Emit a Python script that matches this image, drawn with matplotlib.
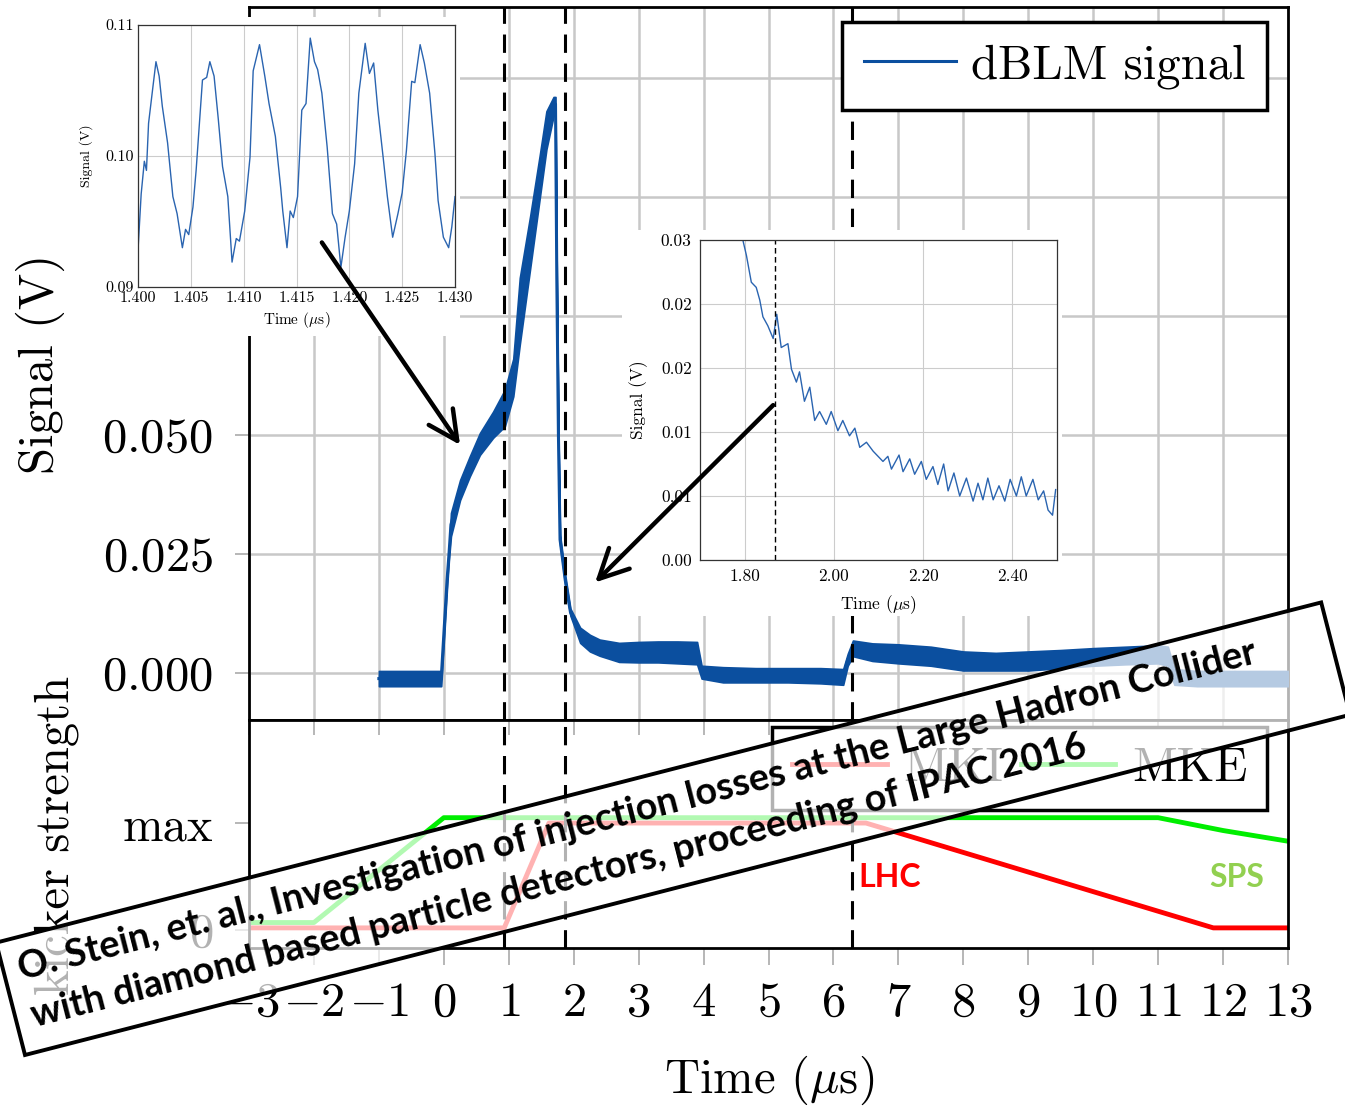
import numpy as np
import matplotlib
matplotlib.use("Agg")
import matplotlib.pyplot as plt
from matplotlib.patches import Rectangle, ConnectionPatch
from matplotlib.transforms import Affine2D

plt.rcParams['font.family'] = ['cmr10', 'DejaVu Serif']
plt.rcParams['mathtext.fontset'] = 'cm'
plt.rcParams['axes.formatter.use_mathtext'] = True

# ---- main dBLM trace (noise band: lower / upper envelope) ----
sig_t = [-1.0, -0.5, -0.04, 0.05, 0.08, 0.11, 0.25, 0.40, 0.556, 0.76, 0.94, 1.07,
         1.17, 1.33, 1.48, 1.58, 1.69, 1.72, 1.74, 1.765, 1.79, 1.87, 1.95, 2.1,
         2.25, 2.4, 2.7, 3.0, 3.3, 3.6, 3.9, 3.97, 4.3, 4.8, 5.3, 5.8, 6.15,
         6.22, 6.3, 6.6, 7.0, 7.5, 8.0, 8.5, 9.0, 9.5, 10.0, 10.5, 11.0, 11.15,
         11.25, 11.6, 12.0, 12.5, 13.0]
sig_lo = [-0.0028, -0.0028, -0.0028, 0.018, 0.024, 0.0287, 0.0363, 0.0413, 0.0458,
          0.0494, 0.0518, 0.0581, 0.069, 0.085, 0.100, 0.110, 0.117, 0.118, 0.083,
          0.050, 0.027, 0.0185, 0.0120, 0.0063, 0.0045, 0.0036, 0.0023, 0.0022,
          0.0022, 0.0020, 0.0018, -0.0012, -0.0020, -0.0020, -0.0020, -0.0022,
          -0.0025, 0.0015, 0.0035, 0.0025, 0.0020, 0.0015, 0.0005, 0.0005, 0.0005,
          0.0010, 0.0015, 0.0018, 0.0020, 0.0015, -0.0025, -0.0028, -0.0028,
          -0.0028, -0.0028]
sig_hi = [0.0004, 0.0004, 0.0004, 0.021, 0.026, 0.0336, 0.0405, 0.0455, 0.0504,
          0.0549, 0.0595, 0.066, 0.083, 0.096, 0.109, 0.118, 0.121, 0.121, 0.083,
          0.050, 0.029, 0.0205, 0.0135, 0.0095, 0.0080, 0.0070, 0.0063, 0.0065,
          0.0066, 0.0066, 0.0065, 0.0015, 0.0012, 0.0010, 0.0010, 0.0010, 0.0008,
          0.0040, 0.0068, 0.0062, 0.0060, 0.0055, 0.0045, 0.0042, 0.0045, 0.0048,
          0.0052, 0.0055, 0.0058, 0.0055, 0.0008, 0.0004, 0.0004, 0.0004, 0.0004]

# ---- kicker waveforms ----
mki_t = [-3, 0.93, 1.62, 6.5, 11.85, 13]
mki_v = [0.02, 0.02, 1.0, 1.0, 0.02, 0.02]
mke_t = [-3, -2, 0, 11, 12, 13]
mke_v = [0.07, 0.07, 1.05, 1.05, 0.93, 0.83]

# dashed markers (us)
mark_t = [0.93, 1.86, 6.28]

# ---- inset 1: oscillation around 1.4 us ----
in1_t = [1.4000, 1.4003, 1.4006, 1.4008, 1.4010, 1.4014, 1.4017, 1.4020, 1.4023,
         1.4028, 1.4033, 1.4037, 1.4042, 1.4045, 1.4048, 1.4052, 1.4055, 1.4061,
         1.4065, 1.4068, 1.4072, 1.4076, 1.4080, 1.4085, 1.4089, 1.4093, 1.4096,
         1.4101, 1.4106, 1.4109, 1.4115, 1.4120, 1.4124, 1.4130, 1.4135, 1.4137,
         1.4141, 1.4144, 1.4147, 1.4151, 1.4155, 1.4159, 1.4163, 1.4167, 1.4170,
         1.4174, 1.4179, 1.4184, 1.4188, 1.4192, 1.4196, 1.4200, 1.4205, 1.4209,
         1.4215, 1.4219, 1.4223, 1.4227, 1.4232, 1.4236, 1.4241, 1.4246, 1.4250,
         1.4254, 1.4259, 1.4262, 1.4267, 1.4271, 1.4276, 1.4281, 1.4284, 1.4289,
         1.4294, 1.4297, 1.4300]
in1_v = [0.0928, 0.0971, 0.0996, 0.0989, 0.1025, 0.1052, 0.1072, 0.1061, 0.1038,
         0.1010, 0.0969, 0.0956, 0.0930, 0.0944, 0.0940, 0.0961, 0.0989, 0.1058,
         0.1060, 0.1072, 0.1061, 0.1028, 0.0992, 0.0969, 0.0919, 0.0937, 0.0935,
         0.0958, 0.0999, 0.1065, 0.1085, 0.1061, 0.1040, 0.1015, 0.0976, 0.0958,
         0.0930, 0.0958, 0.0953, 0.0969, 0.1035, 0.1040, 0.1090, 0.1072, 0.1066,
         0.1048, 0.1007, 0.0956, 0.0948, 0.0915, 0.0938, 0.0958, 0.0994, 0.1048,
         0.1086, 0.1063, 0.1071, 0.1035, 0.0999, 0.0969, 0.0938, 0.0956, 0.0972,
         0.1004, 0.1057, 0.1056, 0.1085, 0.1071, 0.1048, 0.1002, 0.0966, 0.0938,
         0.0930, 0.0946, 0.0969]

# ---- inset 2: decay tail ----
in2_t = [1.796, 1.804, 1.815, 1.826, 1.834, 1.841, 1.852, 1.864, 1.872, 1.882,
         1.897, 1.905, 1.916, 1.923, 1.934, 1.946, 1.957, 1.968, 1.983, 1.994,
         2.009, 2.020, 2.035, 2.047, 2.058, 2.073, 2.088, 2.099, 2.110, 2.121,
         2.129, 2.146, 2.155, 2.170, 2.181, 2.196, 2.207, 2.222, 2.233, 2.246,
         2.256, 2.269, 2.282, 2.297, 2.312, 2.323, 2.334, 2.345, 2.357, 2.370,
         2.383, 2.395, 2.409, 2.420, 2.431, 2.446, 2.458, 2.470, 2.480, 2.490,
         2.497]
in2_v = [0.0250, 0.0238, 0.0217, 0.0213, 0.0203, 0.0190, 0.0183, 0.0173, 0.0192,
         0.0166, 0.0169, 0.0149, 0.0139, 0.0147, 0.0124, 0.0135, 0.0109, 0.0116,
         0.0106, 0.0116, 0.0101, 0.0109, 0.0097, 0.0103, 0.0088, 0.0092, 0.0085,
         0.0081, 0.0077, 0.0081, 0.0071, 0.0082, 0.0069, 0.0079, 0.0067, 0.0077,
         0.0063, 0.0073, 0.0059, 0.0075, 0.0054, 0.0068, 0.0050, 0.0064, 0.0046,
         0.0060, 0.0047, 0.0064, 0.0047, 0.0058, 0.0046, 0.0063, 0.0050, 0.0065,
         0.0050, 0.0063, 0.0047, 0.0054, 0.0039, 0.0035, 0.0055]
in2_ylabels = ['0.00', '0.01', '0.01', '0.02', '0.02', '0.03']

x_ticks = list(range(-3, 14))
y_ticks = [0.0, 0.025, 0.05, 0.075, 0.1, 0.125]
y_ticklabels = ['$0.000$', '$0.025$', '$0.050$', '', '', '']  # upper ones sit under the inset

citation = ["O. Stein, et. al., Investigation of injection losses at the Large Hadron Collider",
            "with diamond based particle detectors, proceeding of IPAC 2016"]

BLUE = '#0b4f9f'
GRID = '#c8c8c8'
TLAB = r'Time ($\mu$s)'
W, H = 1345, 1111


def box(x0, y0, x1, y1):
    # pixel box (origin top-left) -> figure fraction rect
    return [x0 / W, 1 - y1 / H, (x1 - x0) / W, (y1 - y0) / H]


fig = plt.figure(figsize=(W / 100, H / 100), dpi=100)
ax1 = fig.add_axes(box(249, 7, 1288, 720))
ax2 = fig.add_axes(box(249, 720, 1288, 948))

# top panel
ax1.set_axisbelow(True)
ax1.grid(True, color=GRID, lw=1.8)
mid = (np.array(sig_lo) + np.array(sig_hi)) / 2
ax1.fill_between(sig_t, sig_lo, sig_hi, color=BLUE, lw=1.2, zorder=3)
ax1.plot(sig_t, mid, color=BLUE, lw=2.2, zorder=3, label='dBLM signal')
for t in mark_t:
    ax1.axvline(t, color='k', lw=2.2, dashes=(6, 3.5), zorder=4)
ax1.set_xlim(-3, 13)
ax1.set_ylim(-0.0099, 0.1399)
ax1.set_xticks(x_ticks)
ax1.set_yticks(y_ticks)
ax1.set_yticklabels(y_ticklabels, fontsize=35)
ax1.tick_params(axis='x', length=0, labelbottom=False)
ax1.tick_params(axis='y', length=10, width=1.2, color='#aaaaaa', pad=16)
for s in ax1.spines.values():
    s.set_linewidth(2)
leg = ax1.legend(loc='upper right', bbox_to_anchor=(0.98, 0.979), fontsize=35,
                 fancybox=False, framealpha=1, edgecolor='black', borderpad=0.45,
                 handlelength=1.9, handletextpad=0.3, borderaxespad=0)
leg.get_frame().set_linewidth(2.5)

# bottom panel
ax2.plot(mki_t, mki_v, color='#ff0000', lw=3.5, label='MKI')
ax2.plot(mke_t, mke_v, color='#00ee00', lw=3.5, label='MKE')
for t in mark_t:
    ax2.axvline(t, color='k', lw=2.2, dashes=(6, 3.5), zorder=4)
ax2.set_xlim(-3, 13)
ax2.set_ylim(-0.168, 1.963)
ax2.set_xticks(x_ticks)
ax2.set_xticklabels(['$%d$' % v for v in x_ticks], fontsize=35)
ax2.set_yticks([0, 1])
ax2.set_yticklabels(['$0$', 'max'], fontsize=35)
ax2.tick_params(axis='x', length=12, width=1.2, color='#aaaaaa', pad=12)
ax2.tick_params(axis='y', length=10, width=1.2, color='#aaaaaa', pad=16)
top = ax2.secondary_xaxis('top')
top.set_xticks(x_ticks)
top.tick_params(direction='in', length=11, width=1.2, color='#aaaaaa', labeltop=False)
top.spines['top'].set_visible(False)
for s in ax2.spines.values():
    s.set_linewidth(2)
ax2.text(6.39, 0.495, 'LHC', color='#ff0000', family='Lato', weight='bold',
         fontsize=23, ha='left', va='center')
ax2.text(12.64, 0.495, 'SPS', color='#92d050', family='Lato', weight='bold',
         fontsize=23, ha='right', va='center')
leg2 = ax2.legend(loc='upper right', bbox_to_anchor=(0.98, 0.969), ncol=2, fontsize=35,
                  fancybox=False, framealpha=1, edgecolor='black', borderpad=0.4,
                  handlelength=1.95, handletextpad=0.35, columnspacing=0.35,
                  borderaxespad=0)
leg2.get_frame().set_linewidth(2.5)

fig.text(40 / W, 1 - 364 / H, 'Signal (V)', rotation=90, fontsize=35, ha='center', va='center')
fig.text(57 / W, 1 - 835 / H, 'kicker strength', rotation=90, fontsize=35, ha='center', va='center')
fig.text(769 / W, 1 - 1080 / H, TLAB, fontsize=35, ha='center', va='center')

# white backgrounds of the pasted insets
for x0, y0, x1, y1 in [(70, 17, 460, 336), (622, 230, 1062, 616)]:
    fig.add_artist(Rectangle((x0 / W, 1 - y1 / H), (x1 - x0) / W, (y1 - y0) / H,
                             transform=fig.transFigure, facecolor='white',
                             edgecolor='none', zorder=1))

# inset 1
ax3 = fig.add_axes(box(138, 25, 455, 287), zorder=2)
ax3.plot(in1_t, in1_v, color='#2a64b0', lw=1.0)
ax3.set_xlim(1.400, 1.430)
ax3.set_ylim(0.09, 0.11)
ax3.set_xticks([1.400, 1.405, 1.410, 1.415, 1.420, 1.425, 1.430])
ax3.set_xticklabels(['1.400', '1.405', '1.410', '1.415', '1.420', '1.425', '1.430'])
ax3.set_yticks([0.09, 0.10, 0.11])
ax3.set_yticklabels(['0.09', '0.10', '0.11'])
ax3.grid(True, color='#cccccc', lw=0.8)
ax3.tick_params(length=0, labelsize=11.5, pad=3)
ax3.set_xlabel(TLAB, fontsize=11, labelpad=4)
ax3.set_ylabel('Signal (V)', fontsize=10, labelpad=9)
for s in ax3.spines.values():
    s.set_linewidth(0.9)
    s.set_color('#333333')

# inset 2
ax4 = fig.add_axes(box(700, 240, 1057, 560), zorder=2)
ax4.plot(in2_t, in2_v, color='#2a64b0', lw=1.0)
ax4.axvline(1.8685, color='k', lw=1.0, dashes=(4, 2.5))
ax4.set_xlim(1.70, 2.50)
ax4.set_ylim(0, 0.025)
ax4.set_xticks([1.8, 2.0, 2.2, 2.4])
ax4.set_xticklabels(['1.80', '2.00', '2.20', '2.40'])
ax4.set_yticks([0, 0.005, 0.01, 0.015, 0.02, 0.025])
ax4.set_yticklabels(in2_ylabels)
ax4.grid(True, color='#cccccc', lw=0.8)
ax4.tick_params(length=0, labelsize=12.5, pad=6)
ax4.set_xlabel(TLAB, fontsize=12.5, labelpad=7)
ax4.set_ylabel('Signal (V)', fontsize=12.5, labelpad=9)
for s in ax4.spines.values():
    s.set_linewidth(0.9)
    s.set_color('#333333')

# arrows from insets to the trace
for xyA, axA, xyB in [((1.4174, 0.0934), ax3, (0.25, 0.0479)),
                      ((1.864, 0.0121), ax4, (2.33, 0.019))]:
    con = ConnectionPatch(xyA=xyA, coordsA=axA.transData, xyB=xyB, coordsB=ax1.transData,
                          arrowstyle='->,head_length=0.7,head_width=0.35',
                          mutation_scale=30, lw=3.2, color='black', zorder=5)
    fig.add_artist(con)

# citation banner
ang = 14.4
bt = Affine2D().rotate_deg(ang).translate(25, 56)
fig.add_artist(Rectangle((0, 0), 1368, 116, transform=bt, facecolor=(1, 1, 1, 0.7),
                         edgecolor='black', lw=2.8, zorder=10))
probe = fig.text(0, 0, citation[0], family='Lato', weight='bold', fontsize=20)
rend = fig.canvas.get_renderer()
fs = 20 * 1280 / probe.get_window_extent(rend).width
probe.remove()
for (lx, ly), line in zip([(15, 73.6), (16, 24.6)], citation):
    fig.text(lx, ly, line, transform=bt, rotation=ang, rotation_mode='anchor',
             ha='left', va='baseline', family='Lato', weight='bold', fontsize=fs, zorder=11)

fig.savefig('out.png', dpi=100)
